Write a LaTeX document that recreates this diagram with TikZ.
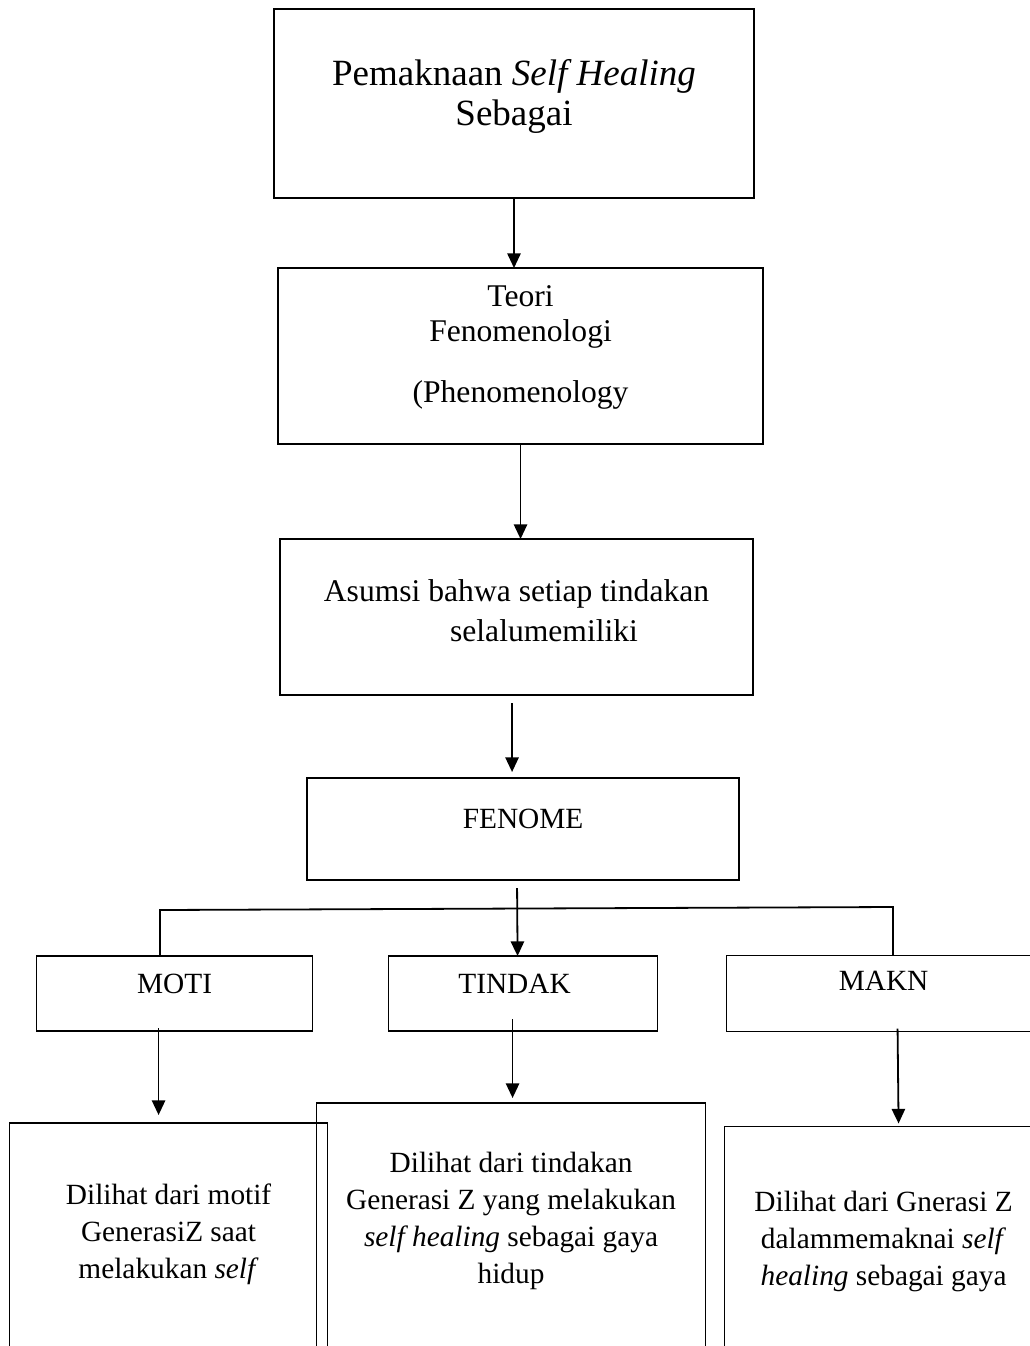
\documentclass[tikz,border=0pt]{standalone}
\usepackage{fontspec}
\setmainfont{Liberation Serif}
\usetikzlibrary{arrows.meta, positioning, calc}

\begin{document}
\begin{tikzpicture}[
        x=0.75pt, y=-0.75pt,
        node distance=57pt,
        box/.style={rectangle, draw, line width=1.35pt, outer sep=0pt, align=center, inner sep=0pt, font=\fontsize{22}{27.75}\selectfont},
        arr/.style={line width=1.35pt, -{Triangle[length=11pt, width=10pt]}},
        link/.style={line width=1.35pt}
    ]
        \useasboundingbox (0,0) rectangle (1030,1346);
        \node[box, minimum width=360pt, minimum height=141.75pt, text depth=16.9pt, font=\fontsize{27.75}{30}\selectfont] (title) at (514,103.5) {Pemaknaan \textit{Self Healing}\\Sebagai};
        \node[box, below=52.5pt of title, xshift=4.9pt, minimum width=363.75pt, minimum height=132pt, text depth=17.6pt, font=\fontsize{23.7}{26.25}\selectfont] (theory) {Teori\\Fenomenologi\\[19.5pt](Phenomenology};
        \node[box, below=71.25pt of theory, xshift=-3pt, minimum width=354.75pt, minimum height=117pt, text depth=10.1pt, font=\fontsize{23.7}{30}\selectfont] (assume) {Asumsi bahwa setiap tindakan\\\hspace*{41.25pt}selalumemiliki};
        \node[box, below=62.25pt of assume, xshift=4.9pt, minimum width=324pt, minimum height=76.5pt, text depth=14.6pt] (phenom) {FENOME};

        \node[box, below=of phenom, minimum width=201.75pt, minimum height=56.25pt, text depth=14.6pt] (action) {TINDAK\hspace*{12.75pt}};
        \node[box, left=of action, minimum width=207pt, minimum height=56.25pt, text depth=14.6pt] (motive) {MOTI};
        \node[box, right=51.75pt of action, minimum width=235.5pt, minimum height=57pt, text depth=19pt] (meaning) {MAKN};

        \node[box, below=69pt of motive, xshift=-4.5pt, minimum width=238.5pt, minimum height=207.75pt, text depth=45pt] (motivetext) {Dilihat dari motif\\GenerasiZ saat\\melakukan \textit{self}};
        \node[box, below=54pt of action, xshift=-9pt, minimum width=291.75pt, minimum height=222.75pt, text depth=50.25pt] (actiontext) {Dilihat dari tindakan\\Generasi Z yang melakukan\\\textit{self healing} sebagai gaya\\hidup};
        \node[box, below=71.25pt of meaning, minimum width=238.5pt, minimum height=205.5pt, text depth=37.5pt] (meaningtext) {Dilihat dari Gnerasi Z\\dalammemaknai \textit{self}\\\textit{healing} sebagai gaya};

        \draw[arr] (title.south) -- (title.south |- theory.north);
        \draw[arr] (theory.south) -- (theory.south |- assume.north);
        \draw[arr] ($(assume.south)+(-4.5,8)$) -- ($(phenom.north)+(-11,-6)$);
        \draw[arr] ($(phenom.south)+(-6,8)$) -- ($(action.north)+(-5.5,0)$);

        \coordinate (bl) at (160,910);
        \coordinate (br) at (893,907);
        \draw[link] (motive.north -| bl) -- (bl) -- (br) -- (br |- meaning.north);

        \draw[arr] ($(motive.south)+(-16,-3)$) -- ($(motivetext.north)+(-10,-8)$);
        \draw[arr] ($(action.south)+(-10.5,-12)$) -- ($(actiontext.north)+(1.5,-5)$);
        \draw[arr] ($(meaning.south)+(14,-3)$) -- ($(meaningtext.north)+(15,-3)$);
    \end{tikzpicture}
\end{document}
